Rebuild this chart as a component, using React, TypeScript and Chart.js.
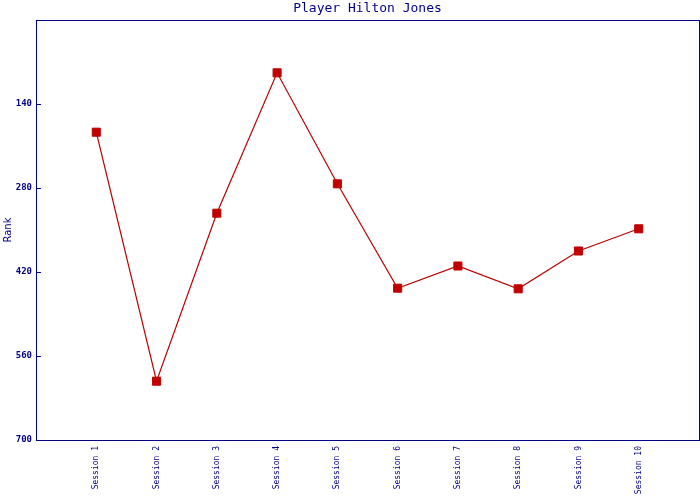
import React, { useEffect, useRef } from "react";
import { Chart, registerables } from "chart.js";

Chart.register(...registerables);

const chartTitle = "Player Hilton Jones";
const yAxisTitle = "Rank";
const categories = [
  "Session 1",
  "Session 2",
  "Session 3",
  "Session 4",
  "Session 5",
  "Session 6",
  "Session 7",
  "Session 8",
  "Session 9",
  "Session 10",
];
const ranks = [187, 602, 322, 88, 273, 447, 410, 448, 385, 348];
const yTicks = [140, 280, 420, 560, 700];

const NAVY = "#000088";
const RED = "#c00000";

const framePlugin = {
  id: "frame",
  afterDraw(chart: any) {
    const { ctx, chartArea } = chart;
    const { left, top, right, bottom } = chartArea;
    ctx.save();
    ctx.strokeStyle = NAVY;
    ctx.lineWidth = 1;
    ctx.strokeRect(Math.round(left) + 0.5, Math.round(top) + 0.5, Math.round(right - left), Math.round(bottom - top));
    const ys = chart.scales.y;
    ctx.beginPath();
    yTicks.forEach((v) => {
      const py = Math.round(ys.getPixelForValue(v)) + 0.5;
      ctx.moveTo(left, py);
      ctx.lineTo(left + 5, py);
    });
    ctx.stroke();
    ctx.fillStyle = NAVY;
    ctx.font = "13px 'DejaVu Sans Mono'";
    ctx.textAlign = "center";
    ctx.textBaseline = "middle";
    ctx.fillText(chartTitle, (left + right) / 2, 9);
    ctx.restore();
  },
};

export default function App() {
  const ref = useRef<HTMLCanvasElement | null>(null);

  useEffect(() => {
    if (!ref.current) return;
    const chart = new Chart(ref.current, {
      type: "line",
      data: {
        datasets: [
          {
            label: "Rank",
            data: ranks.map((r, i) => ({ x: i + 1, y: r })),
            borderColor: "#b80000",
            backgroundColor: RED,
            borderWidth: 1.2,
            pointStyle: "rect",
            pointRadius: 5.7,
            pointBorderWidth: 1,
            pointBackgroundColor: RED,
            pointBorderColor: RED,
            tension: 0,
          },
        ],
      },
      options: {
        animation: false,
        responsive: false,
        devicePixelRatio: 1,
        layout: { autoPadding: false, padding: { top: 20, right: 1, bottom: 0, left: 0 } },
        plugins: {
          legend: { display: false },
          title: { display: false },
          tooltip: { enabled: false },
        },
        scales: {
          x: {
            type: "linear",
            min: 0,
            max: 11,
            grid: { display: false, drawTicks: false },
            border: { display: false },
            afterFit: (s: any) => {
              s.height = 60;
              s.paddingLeft = 0;
              s.paddingRight = 0;
            },
            ticks: {
              stepSize: 1,
              autoSkip: false,
              maxRotation: 90,
              minRotation: 90,
              padding: 6,
              color: NAVY,
              font: { family: "'DejaVu Sans Mono'", size: 8 },
              callback: (v: any) => {
                const i = Number(v);
                return i >= 1 && i <= categories.length ? categories[i - 1] : "";
              },
            },
          },
          y: {
            type: "linear",
            reverse: true,
            min: 0,
            max: 700,
            grid: { display: false, drawTicks: false },
            border: { display: false },
            afterFit: (s: any) => {
              s.width = 36;
              s.paddingTop = 0;
              s.paddingBottom = 0;
            },
            title: {
              display: true,
              text: yAxisTitle,
              color: NAVY,
              font: { family: "'DejaVu Sans'", size: 10 },
              padding: { top: 2, bottom: 0 },
            },
            afterBuildTicks: (s: any) => {
              s.ticks = yTicks.map((v) => ({ value: v }));
            },
            ticks: {
              padding: 4,
              color: NAVY,
              font: { family: "'DejaVu Sans Mono'", size: 9, weight: "bold" },
            },
          },
        },
      },
      plugins: [framePlugin],
    });
    return () => chart.destroy();
  }, []);

  return (
    <div style={{ position: "fixed", left: 0, top: 0, width: 700, height: 500, background: "#fff" }}>
      <canvas ref={ref} width={700} height={500} />
    </div>
  );
}
